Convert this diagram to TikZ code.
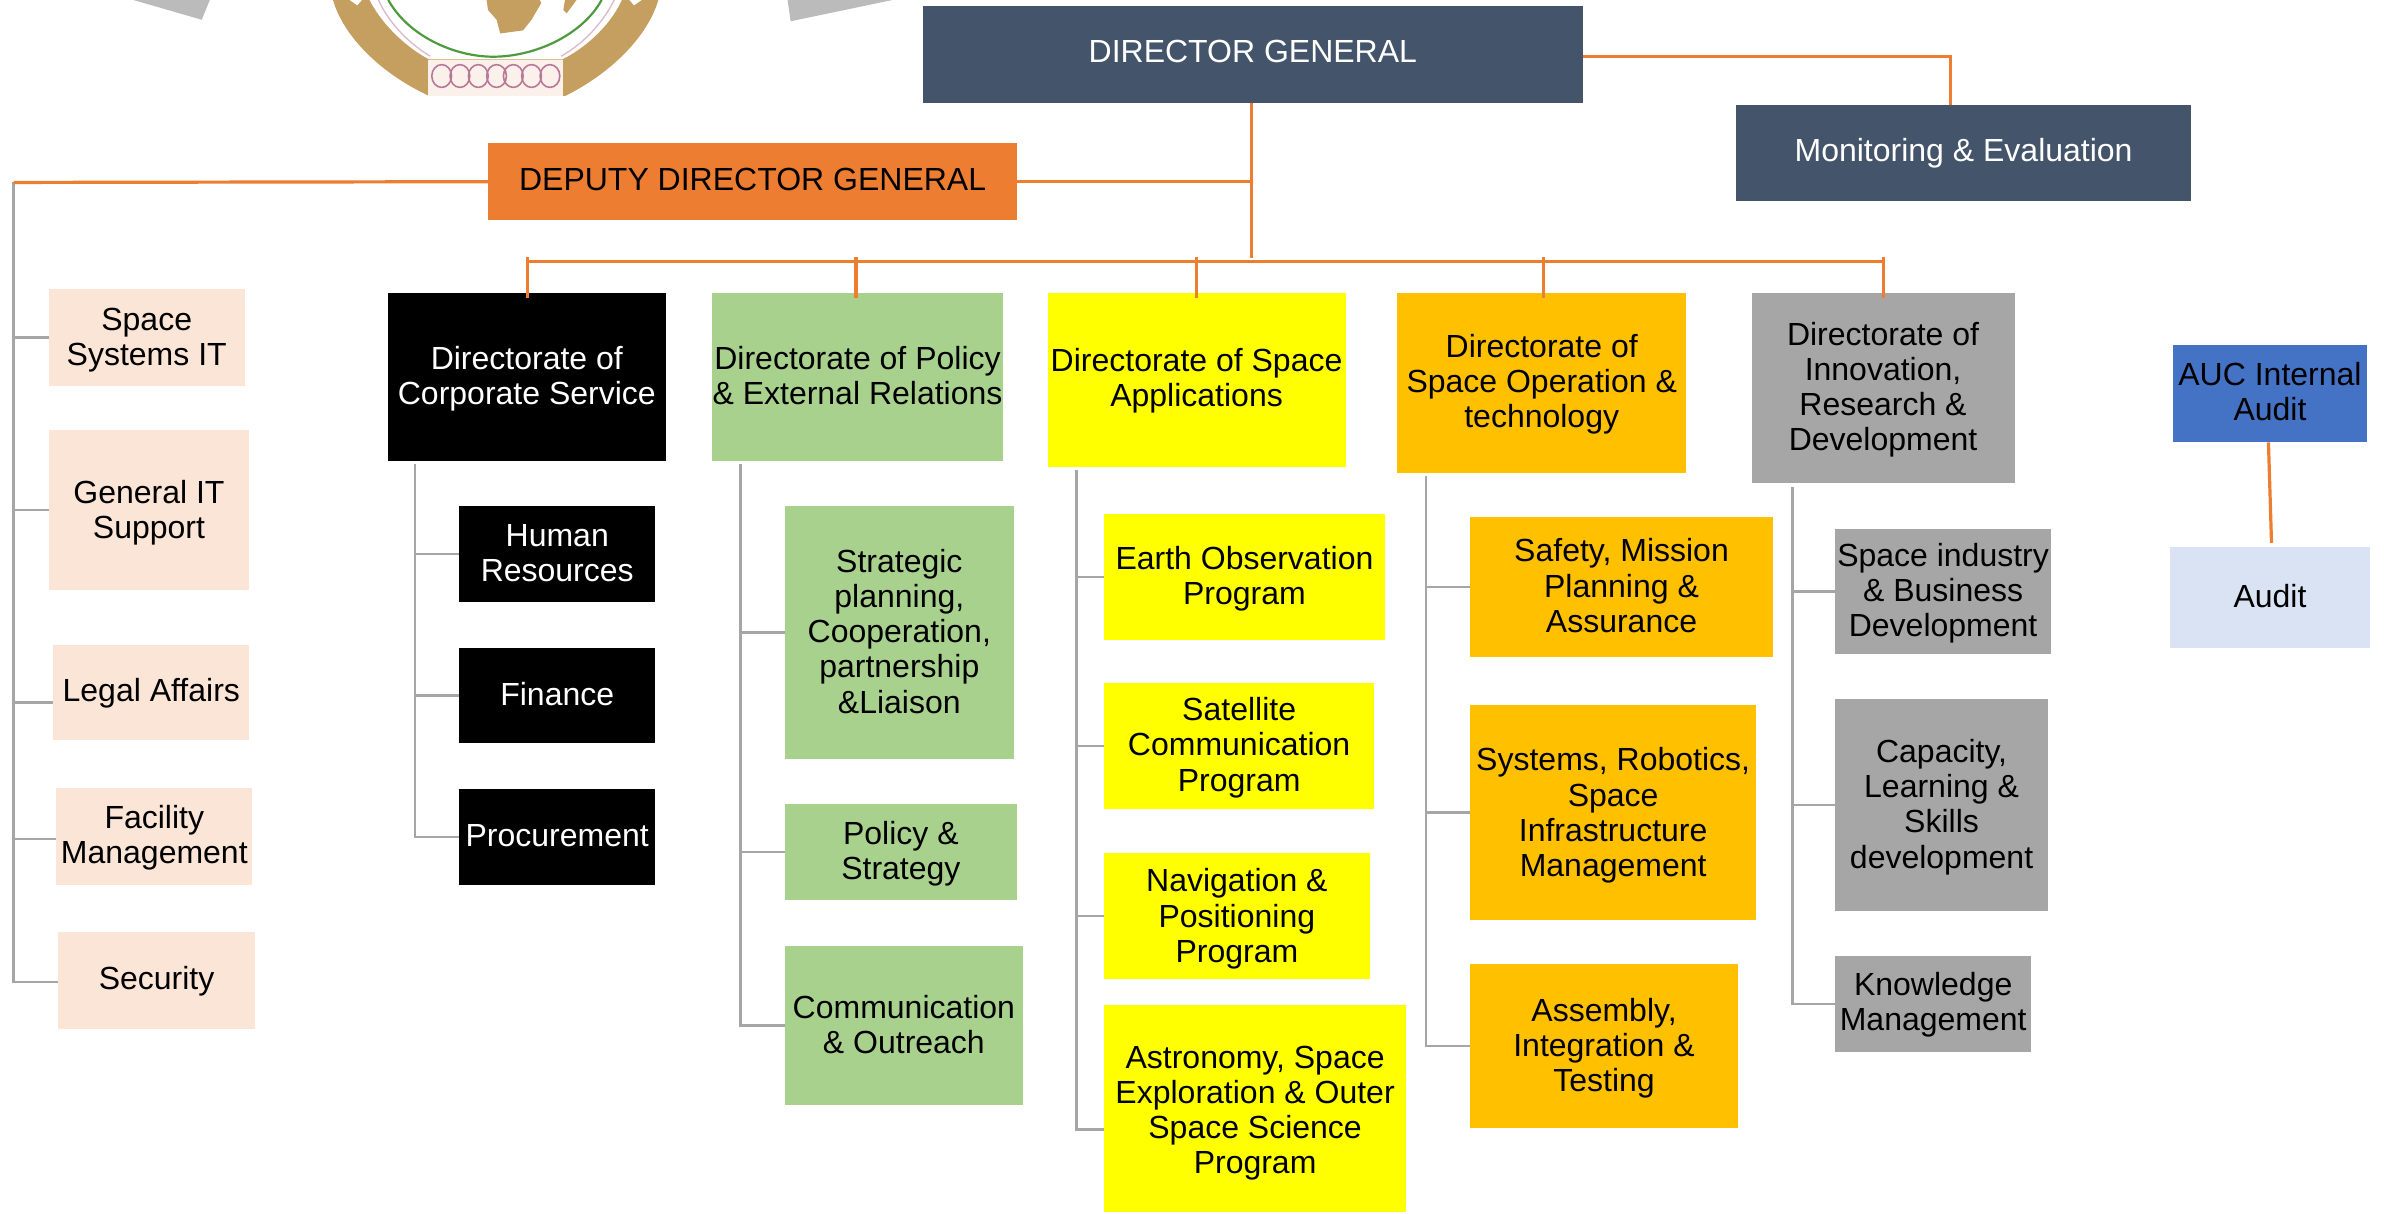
\documentclass[tikz,border=0pt]{standalone}
\usepackage{fontspec}
\setmainfont{Liberation Sans}
\usetikzlibrary{calc}
\definecolor{slateb}{HTML}{44546A}
\definecolor{orangeb}{HTML}{ED7D31}
\definecolor{peach}{HTML}{FBE5D6}
\definecolor{greenb}{HTML}{A9D18E}
\definecolor{yellowb}{HTML}{FFFF00}
\definecolor{amber}{HTML}{FFC000}
\definecolor{greyb}{HTML}{A6A6A6}
\definecolor{blueb}{HTML}{4472C4}
\definecolor{paleb}{HTML}{DAE3F3}
\definecolor{logogold}{HTML}{C49F5F}
\definecolor{logogreen}{HTML}{4E9A3E}
\definecolor{logopink}{HTML}{B9789A}
\definecolor{logogrey}{HTML}{BBBBBB}
\definecolor{logopale}{HTML}{FBF1EA}
\tikzset{
  box/.style={inner sep=0pt,outer sep=0pt,text=black,font=\fontsize{16pt}{17.6pt}\selectfont},
  orgline/.style={draw=orangeb,line width=1.6pt},
  greyline/.style={draw=greyb,line width=1.2pt},
  dark/.style={fill=slateb,text=white},
  peachbox/.style={fill=peach},
  blackbox/.style={fill=black,text=white},
  greenbox/.style={fill=greenb},
  yellowbox/.style={fill=yellowb},
  amberbox/.style={fill=amber},
  greybox/.style={fill=greyb},
}
% optional argument: downward shift of the text, in picture units
\newcommand{\orgbox}[8][0]{\node[box,#7,minimum width={(#5-#3)*0.7602pt},minimum height={(#6-#4)*0.7602pt}] (#2) at ({(#3+#5)/2},{-(#4+#6)/2}) {\raisebox{\dimexpr -4pt -#1\dimexpr 0.7602pt\relax\relax}[0pt][0pt]{\tabcolsep=0pt\begin{tabular}{c}#8\end{tabular}}};}
\begin{document}
\begin{tikzpicture}[x=0.7602pt,y=0.7602pt]
\useasboundingbox (0,0) rectangle (1568,-798.47);
% logo fragment
\fill[logogrey] (87.7,0) -- (138,0) -- (132.7,-13) -- cycle;
\fill[logogrey] (518,0) -- (587,0) -- (520,-14) -- cycle;
\begin{scope}
\clip (200,0) rectangle (450,-63);
\fill[logogold] (219,0) .. controls (226,-24) and (250,-48) .. (282,-63) -- (372,-63) .. controls (402,-48) and (426,-24) .. (433,0) -- (409,0) .. controls (403,-14) and (388,-30) .. (370,-39) -- (282,-39) .. controls (265,-30) and (250,-14) .. (243,0) -- cycle;
\fill[white] (230,0) -- (238,0) -- (235,-3.5) -- cycle;
\fill[white] (414,0) -- (422,0) -- (417,-3.5) -- cycle;
\draw[logopink!50,line width=0.7pt] (249,0) .. controls (255,-14) and (268,-28) .. (283,-37) (369,-37) .. controls (385,-28) and (397,-14) .. (404,0);
\draw[logogreen,line width=1.1pt] (255.4,0) .. controls (268,-23) and (298,-37.3) .. (324.4,-37.3) .. controls (352,-37.3) and (383,-23) .. (395.7,0);
\fill[logogold] (320,0) -- (355,0) -- (356,-2) -- (349.6,-13) -- (344,-20) -- (329,-22) -- (326.6,-13) -- (321,-6.6) -- cycle;
\fill[logogold] (370.5,-6.6) -- (372.7,-8.8) -- (379.2,0) -- (371.6,0) -- cycle;
\fill[logopale] (281.7,-39.5) rectangle (370.5,-63);
\foreach \bead in {290.5,302.5,314.6,326.6,337.6,349.6,361.7}
  \draw[logopink,line width=0.8pt] (\bead,-50) ellipse (6.5 and 7.5);
\end{scope}
% main boxes
\orgbox[1]{dg}{607}{4}{1041}{68}{dark}{DIRECTOR GENERAL}
\orgbox[1.5]{me}{1142}{69}{1441}{132}{dark}{Monitoring \& Evaluation}
\orgbox[1.5]{ddg}{321}{94}{669}{145}{fill=orangeb}{DEPUTY DIRECTOR GENERAL}
% left column
\orgbox[2.5]{ssit}{32}{190}{161}{254}{peachbox}{Space\\Systems IT}
\orgbox[3]{gits}{32}{283}{164}{388}{peachbox}{General IT\\Support}
\orgbox[2]{legal}{35}{424}{164}{487}{peachbox}{Legal Affairs}
\orgbox[2]{fac}{37}{518}{166}{582}{peachbox}{Facility\\Management}
\orgbox[1.5]{sec}{38}{613}{168}{677}{peachbox}{Security}
% directorates
\orgbox[2.5]{corp}{255}{193}{438}{303}{blackbox}{Directorate of\\Corporate Service}
\orgbox[2.5]{pol}{468}{193}{660}{303}{greenbox}{Directorate of Policy\\\& External Relations}
\orgbox[1.5]{app}{689}{193}{885}{307}{yellowbox}{Directorate of Space\\Applications}
\orgbox[2]{ops}{919}{193}{1109}{311}{amberbox}{Directorate of\\Space Operation \&\\technology}
\orgbox[2]{inn}{1152}{193}{1325}{318}{greybox}{Directorate of\\Innovation,\\Research \&\\Development}
% corporate children
\orgbox[2]{hr}{302}{333}{431}{396}{blackbox}{Human\\Resources}
\orgbox[2]{fin}{302}{426}{431}{489}{blackbox}{Finance}
\orgbox[2]{proc}{302}{519}{431}{582}{blackbox}{Procurement}
% policy children
\orgbox[2.5]{strat}{516}{333}{667}{499}{greenbox}{Strategic\\planning,\\Cooperation,\\partnership\\\&Liaison}
\orgbox[2.5]{polst}{516}{529}{669}{592}{greenbox}{Policy \&\\Strategy}
\orgbox[2.5]{comm}{516}{622}{673}{727}{greenbox}{Communication\\\& Outreach}
% application children
\orgbox[2.5]{eo}{726}{338}{911}{421}{yellowbox}{Earth Observation\\Program}
\orgbox[2.5]{sat}{726}{449}{904}{532}{yellowbox}{Satellite\\Communication\\Program}
\orgbox[3]{nav}{726}{561}{901}{644}{yellowbox}{Navigation \&\\Positioning\\Program}
\orgbox[4]{astro}{726}{661}{925}{797}{yellowbox}{Astronomy, Space\\Exploration \& Outer\\Space Science\\Program}
% operations children
\orgbox[2.5]{safe}{967}{340}{1166}{432}{amberbox}{Safety, Mission\\Planning \&\\Assurance}
\orgbox[3]{sys}{967}{464}{1155}{605}{amberbox}{Systems, Robotics,\\Space\\Infrastructure\\Management}
\orgbox[2.5]{asm}{967}{634}{1143}{742}{amberbox}{Assembly,\\Integration \&\\Testing}
% innovation children
\orgbox[2.5]{ind}{1207}{348}{1349}{430}{greybox}{Space industry\\\& Business\\Development}
\orgbox[2.5]{cap}{1207}{460}{1347}{599}{greybox}{Capacity,\\Learning \&\\Skills\\development}
\orgbox[1.5]{know}{1207}{629}{1336}{692}{greybox}{Knowledge\\Management}
% audit
\orgbox[2]{auc}{1429}{227}{1557}{291}{fill=blueb}{AUC Internal\\Audit}
\orgbox[2.5]{aud}{1427}{360}{1559}{426}{fill=paleb}{Audit}
% free ends
\coordinate (lefttop) at (9,-120);
\coordinate (trcorp) at (273,-305);
\coordinate (trpol) at (487,-305);
\coordinate (trapp) at (708,-309);
\coordinate (tropsc) at (938,-313);
\coordinate (trinn) at (1179,-320);
\coordinate (busl) at (347,-172);
\coordinate (busr) at (1239,-172);
\coordinate (dgfoot) at (823,-170);
\coordinate (dgcorner) at (1283,-37);
% grey brackets
\draw[greyline] (lefttop) |- ($(sec.west)+(0,-1)$);
\foreach \c in {ssit,gits} \draw[greyline] (lefttop |- \c.west) -- (\c.west);
\draw[greyline] (lefttop |- 0,-462) -- (legal.west |- 0,-462);
\draw[greyline] (lefttop |- 0,-552) -- (fac.west |- 0,-552);
\draw[greyline] (trcorp) |- (proc.west);
\foreach \c in {hr,fin} \draw[greyline] (trcorp |- \c.west) -- (\c.west);
\draw[greyline] (trpol) |- (comm.west);
\foreach \c in {strat,polst} \draw[greyline] (trpol |- \c.west) -- (\c.west);
\draw[greyline] (trapp) |- ($(astro.west)+(0,-14)$);
\foreach \c in {eo,sat,nav} \draw[greyline] (trapp |- \c.west) -- (\c.west);
\draw[greyline] (tropsc) |- (asm.west);
\foreach \c in {safe,sys} \draw[greyline] (tropsc |- \c.west) -- (\c.west);
\draw[greyline] (trinn) |- (know.west);
\foreach \c in {ind,cap} \draw[greyline] (trinn |- \c.west) -- (\c.west);
% orange connectors
\draw[orgline] (ddg.west) -- (lefttop);
\draw[orgline] (dg.south -| dgfoot) -- (dgfoot);
\draw[orgline] (ddg.east) -- (ddg.east -| dgfoot);
\draw[orgline] (busl) -- (busr);
\draw[orgline] (dg.east |- dgcorner) -- (dgcorner) -- (me.north -| dgcorner);
\foreach \x in {347,563,787,1015,1239}
  \draw[orgline] (\x,-169) -- (\x,-196);
\draw[orgline] ($(auc.south)+(-1,0)$) -- ($(aud.north)+(1,3)$);
\end{tikzpicture}
\end{document}
